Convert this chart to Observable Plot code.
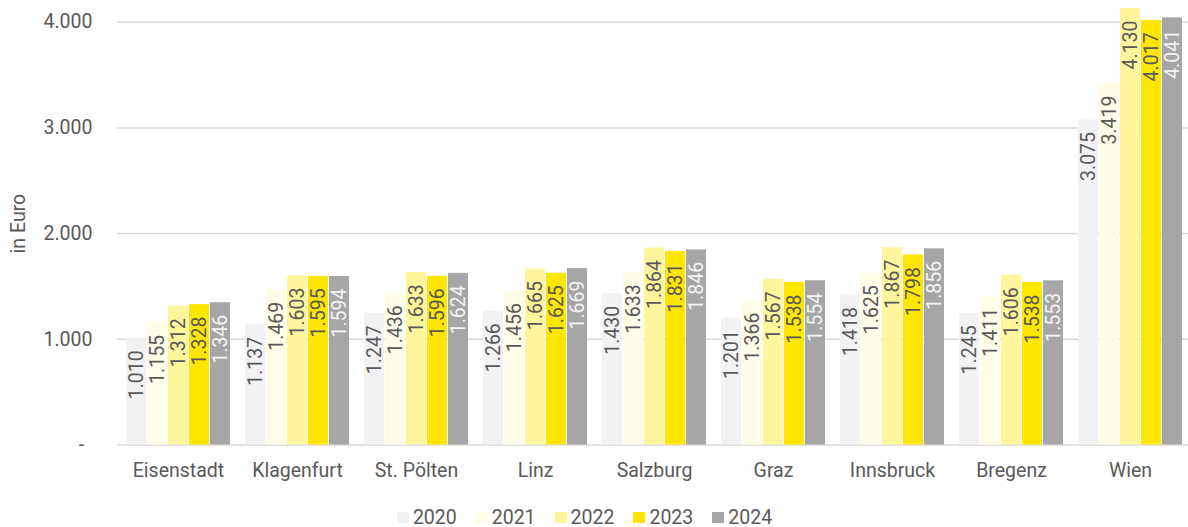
<!DOCTYPE html>
<html>
<head>
<meta charset="utf-8">
<script src="https://cdn.jsdelivr.net/npm/d3@7"></script>
<script src="https://cdn.jsdelivr.net/npm/@observablehq/plot@0.6"></script>
<style>
  html, body { margin: 0; padding: 0; background: #fff; overflow: hidden; }
  #chart { width: 1188px; height: 497px; position: relative; }
  #chart svg { position: absolute; left: 0; top: 0; }
  #legend { display: flex; justify-content: center; align-items: center; height: 40px; padding-right: 19px;
            font-family: Roboto, sans-serif; font-size: 19.5px; color: #595959; }
  .item { display: flex; align-items: center; margin: 0 9.5px; }
  .sw { width: 12px; height: 11px; margin-right: 4px; }
</style>
</head>
<body>
<div id="chart"></div>
<div id="legend"></div>
<script>
const cities = ["Eisenstadt","Klagenfurt","St. Pölten","Linz","Salzburg","Graz","Innsbruck","Bregenz","Wien"];
const years = ["2020","2021","2022","2023","2024"];
const v2020 = [1010,1137,1247,1266,1430,1201,1418,1245,3075];
const v2021 = [1155,1469,1436,1456,1633,1366,1625,1411,3419];
const v2022 = [1312,1603,1633,1665,1864,1567,1867,1606,4130];
const v2023 = [1328,1595,1596,1625,1831,1538,1798,1538,4017];
const v2024 = [1346,1594,1624,1669,1846,1554,1856,1553,4041];
const yTicks = [0,1000,2000,3000,4000];
const colors = ["#f2f2f2","#fffde7","#fff59d","#ffe600","#a6a6a6"];

const series = [v2020, v2021, v2022, v2023, v2024];
const data = [];
cities.forEach((c, i) => years.forEach((y, j) => data.push({city: c, year: y, value: series[j][i]})));

const loc = d3.formatLocale({decimal: ",", thousands: ".", grouping: [3], currency: ["", "€"]});
const fmt = loc.format(",d");
const tickFmt = d => d === 0 ? "-\u2005\u2006" : fmt(d);

const common = {
  width: 1188, height: 497,
  marginLeft: 119, marginRight: 0, marginTop: 21.7, marginBottom: 52.5,
  style: {fontFamily: "Roboto, sans-serif", fontSize: "19.5px", color: "#595959", background: "transparent"},
  y: {domain: [0, 4000], axis: null}
};

// background: gridlines, y tick labels, y title
const bg = Plot.plot({
  ...common,
  x: {axis: null},
  marks: [
    Plot.ruleY(yTicks, {stroke: "#d9d9d9", strokeWidth: 1.5, insetLeft: -2}),
    Plot.text(yTicks, {y: d => d, text: tickFmt, frameAnchor: "left", textAnchor: "end", dx: -27,
      fill: "#595959", fontSize: 19.5, fontFamily: "Roboto"}),
    Plot.text(["in Euro"], {text: d => d, frameAnchor: "left", textAnchor: "middle", rotate: -90, dx: -100.5, dy: -10,
      fill: "#595959", fontSize: 19.5, fontFamily: "Roboto"})
  ]
});

const labelOpts = {
  fx: "city", x: "year", y: "value", text: d => fmt(d.value),
  rotate: -90, textAnchor: "end", lineAnchor: "middle", dy: 12,
  fontSize: 19.5, fontFamily: "Roboto"
};

// foreground: faceted bars
const fg = Plot.plot({
  ...common,
  fx: {domain: cities, paddingInner: 0.129, paddingOuter: 0.05, axis: "bottom", tickSize: 0, tickPadding: 18, label: null},
  x: {domain: years, paddingInner: 0.07, paddingOuter: 0, axis: null},
  color: {domain: years, range: colors},
  marks: [
    Plot.barY(data, {fx: "city", x: "year", y: "value", fill: "year"}),
    Plot.text(data.filter(d => d.year !== "2024"), {...labelOpts, fill: "#595959"}),
    Plot.text(data.filter(d => d.year === "2024"), {...labelOpts, fill: "#f4f4f4"})
  ]
});

const chartDiv = document.getElementById("chart");
chartDiv.appendChild(bg);
chartDiv.appendChild(fg);

const legend = document.getElementById("legend");
years.forEach((y, i) => {
  const it = document.createElement("div");
  it.className = "item";
  const sw = document.createElement("div");
  sw.className = "sw";
  sw.style.background = colors[i];
  const t = document.createElement("span");
  t.textContent = y;
  it.appendChild(sw); it.appendChild(t);
  legend.appendChild(it);
});
</script>
</body>
</html>
